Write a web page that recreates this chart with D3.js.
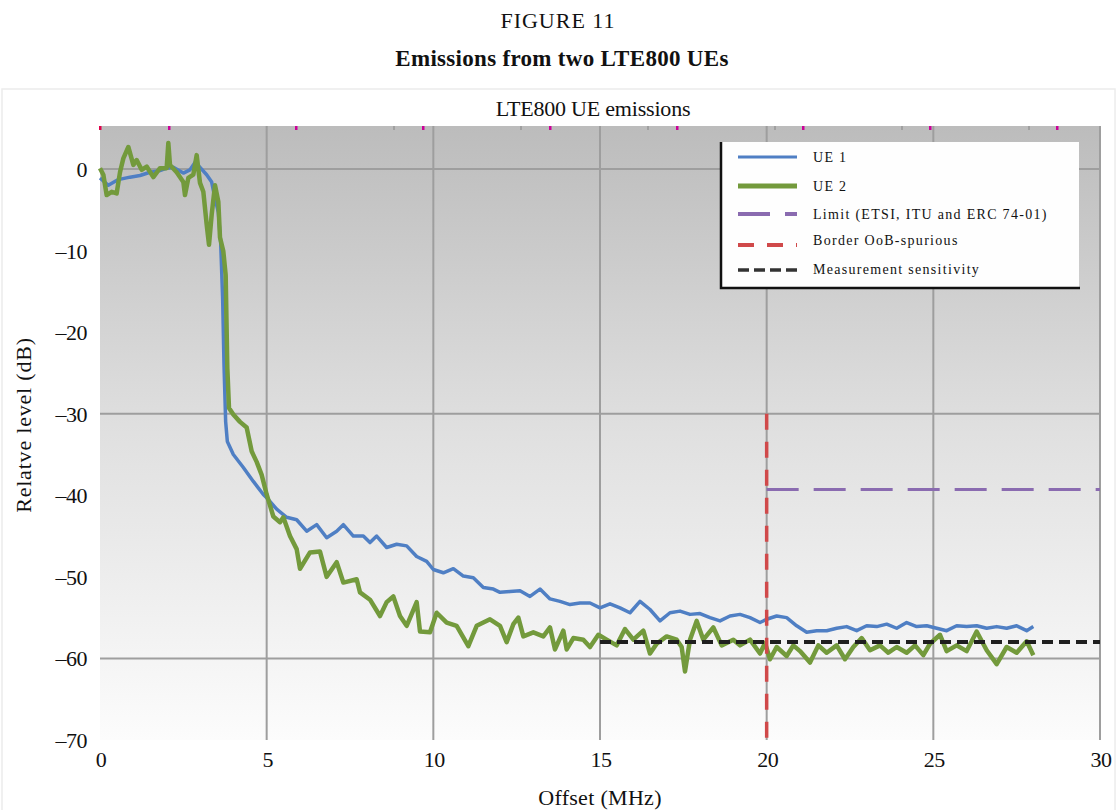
<!DOCTYPE html>
<html lang="en">
<head>
<meta charset="UTF-8">
<title>LTE800 UE emissions</title>
<style>
  body { margin: 0; background: #fff; }
  text { font-family: "Liberation Serif", "Times New Roman", serif; fill: #111; }
</style>
</head>
<body>
<script src="https://d3js.org/d3.v7.min.js"></script>
<script>
// UE 1 (blue) - offset in MHz / relative level in dB
var ue1Offset = [
  0, 0.25, 0.55, 0.9, 1.2, 1.5, 1.8, 2.0, 2.2, 2.5,
  2.7, 2.85, 3.0, 3.2, 3.35, 3.45, 3.55, 3.62, 3.68, 3.72,
  3.77, 3.82, 4.0, 4.3, 4.6, 4.9, 5.0, 5.3, 5.6, 5.9,
  6.2, 6.5, 6.8, 7.1, 7.3, 7.6, 7.9, 8.1, 8.3, 8.6,
  8.9, 9.2, 9.5, 9.8, 10.0, 10.3, 10.6, 10.9, 11.2, 11.5,
  11.8, 12.0, 12.3, 12.6, 12.9, 13.2, 13.5, 13.8, 14.1, 14.4,
  14.7, 15.0, 15.3, 15.6, 15.9, 16.2, 16.5, 16.8, 17.1, 17.4,
  17.7, 18.0, 18.3, 18.6, 18.9, 19.2, 19.5, 19.8, 20.0, 20.3,
  20.6, 20.9, 21.2, 21.5, 21.8, 22.1, 22.4, 22.7, 23.0, 23.3,
  23.6, 23.9, 24.2, 24.5, 24.8, 25.1, 25.4, 25.7, 26.0, 26.3,
  26.6, 26.9, 27.2, 27.5, 27.8, 28.0
];
var ue1Level = [
  -1.1, -2.0, -1.3, -1.0, -0.8, -0.4, -0.2, 0.1, 0.2, -0.5,
  -0.1, 0.8, 0.2, -0.7, -1.6, -3.6, -5.3, -9, -16, -24,
  -31, -33.4, -35, -36.6, -38.3, -39.9, -40.3, -41.7, -42.7, -43,
  -44.4, -43.6, -45.2, -44.4, -43.6, -45, -45, -45.8, -45, -46.4,
  -46, -46.2, -47.5, -48.1, -49.1, -49.5, -49, -49.9, -50.1, -51.3,
  -51.5, -51.9, -51.8, -51.7, -52.4, -51.5, -52.7, -53, -53.4, -53.2,
  -53.2, -53.8, -53.3, -53.8, -54.4, -53, -54, -55.4, -54.4, -54.2,
  -54.6, -54.5, -55, -55.4, -54.8, -54.6, -55, -55.6, -55.2, -54.8,
  -55, -56, -56.8, -56.6, -56.6, -56.3, -56.1, -56.6, -56, -56.1,
  -55.8, -56.3, -55.6, -56.1, -56, -56.3, -56.6, -56, -56.1, -56,
  -56.3, -56.1, -56.3, -56, -56.6, -56.1
];

// UE 2 (green)
var ue2Offset = [
  0, 0.1, 0.2, 0.35, 0.5, 0.6, 0.7, 0.85, 1.0, 1.1,
  1.25, 1.4, 1.6, 1.8, 2.0, 2.05, 2.1, 2.3, 2.5, 2.55,
  2.65, 2.8, 2.9, 3.0, 3.1, 3.2, 3.27, 3.35, 3.45, 3.55,
  3.6, 3.7, 3.77, 3.82, 3.87, 4.0, 4.2, 4.4, 4.55, 4.7,
  4.85, 5.0, 5.2, 5.4, 5.5, 5.7, 5.9, 6.0, 6.3, 6.6,
  6.8, 7.1, 7.3, 7.7, 7.8, 8.1, 8.4, 8.6, 8.8, 9.0,
  9.2, 9.5, 9.6, 9.9, 10.1, 10.4, 10.7, 11.05, 11.3, 11.7,
  12.0, 12.2, 12.4, 12.55, 12.7, 13.0, 13.3, 13.5, 13.65, 13.9,
  14.0, 14.2, 14.5, 14.7, 14.95, 15.2, 15.5, 15.75, 16.0, 16.3,
  16.5, 16.7, 17.0, 17.3, 17.45, 17.55, 17.7, 17.9, 18.1, 18.4,
  18.65, 19.0, 19.2, 19.5, 19.8, 19.95, 20.1, 20.3, 20.6, 20.8,
  21.0, 21.3, 21.55, 21.8, 22.1, 22.35, 22.6, 22.85, 23.1, 23.4,
  23.65, 23.9, 24.2, 24.45, 24.7, 24.9, 25.2, 25.4, 25.7, 26.0,
  26.3, 26.6, 26.9, 27.2, 27.5, 27.8, 28.0
];
var ue2Level = [
  0.1, -0.7, -3.2, -2.8, -3.0, -0.4, 1.3, 2.7, 0.5, 1.1,
  -0.1, 0.3, -1.0, 0.1, 0.1, 3.2, 0.5, -0.4, -1.6, -3.2,
  -1.1, -0.7, 1.7, -1.7, -2.8, -6.8, -9.3, -5.6, -2.0, -4.0,
  -8.4, -10.1, -13, -24.4, -29.3, -30.1, -31, -31.7, -34.6, -35.9,
  -37.5, -39.9, -42.6, -43.3, -42.7, -45, -46.6, -49, -47, -46.9,
  -50, -48.2, -50.7, -50.3, -51.9, -52.8, -54.8, -53.1, -52.4, -54.8,
  -56, -53.1, -56.7, -56.8, -54.4, -55.6, -56, -58.5, -56, -55.2,
  -56, -58, -55.8, -55, -57.3, -56.8, -57.3, -56.2, -58.9, -56.6,
  -58.9, -57.5, -57.7, -58.6, -57.1, -57.7, -58.4, -56.4, -57.7, -56.6,
  -59.4, -58.2, -57.3, -57.7, -58.6, -61.6, -57.7, -55.4, -57.7, -56.2,
  -58.4, -57.7, -58.4, -57.7, -59.4, -58.1, -60.1, -58.6, -59.7, -58.4,
  -59.1, -60.5, -58.4, -59.3, -58.4, -60.1, -58.6, -57.5, -59, -58.4,
  -59.3, -58.6, -59.3, -58.4, -59.6, -58.2, -57.1, -59.1, -58.4, -59.1,
  -56.7, -59, -60.7, -58.6, -59.3, -57.9, -59.6
];

// reference lines
var limitOffset = [20, 30], limitLevel = [-39.3, -39.3];
var borderOffset = [20, 20], borderLevel = [-30, -70];
var sensOffset = [15, 30], sensLevel = [-58, -58];

// axes
var xTicks = [0, 5, 10, 15, 20, 25, 30];
var yTicks = [0, -10, -20, -30, -40, -50, -60, -70];
var xGrid = [5, 10, 15, 20, 25, 30];
var yGrid = [0, -30, -60];
// stray marks along the top edge of the plot
var topPinkMarks = [0, 2.07, 5.88, 9.69, 13.5, 17.31, 21.09, 24.9, 28.71];
var topGreyMarks = [8.82, 12.63, 16.44, 20.25, 24.06, 27.87];

var legendNames = ["UE 1", "UE 2", "Limit (ETSI, ITU and ERC 74-01)", "Border OoB-spurious", "Measurement sensitivity"];

var W = 1117, H = 810;
var svg = d3.select("body").append("svg").attr("width", W).attr("height", H);

var x = d3.scaleLinear().domain([0, 30]).range([100, 1100]);
var y = d3.scaleLinear().domain([-70, 0]).range([740, 169]);
var plotTop = 126;

// headings
svg.append("text").attr("x", 558).attr("y", 28).attr("text-anchor", "middle")
  .style("font-size", "22px").style("letter-spacing", "1px").text("FIGURE 11");
svg.append("text").attr("x", 562).attr("y", 66).attr("text-anchor", "middle")
  .style("font-size", "23px").style("font-weight", "bold").style("letter-spacing", "0.3px")
  .text("Emissions from two LTE800 UEs");

// chart frame
svg.append("rect").attr("x", 2).attr("y", 89).attr("width", 1113).attr("height", 730)
  .attr("fill", "none").attr("stroke", "#ececec").attr("stroke-width", 1.5);

svg.append("text").attr("x", 593).attr("y", 116).attr("text-anchor", "middle")
  .style("font-size", "22px").style("letter-spacing", "-0.2px").text("LTE800 UE emissions");

// plot background gradient
var grad = svg.append("defs").append("linearGradient").attr("id", "bg")
  .attr("x1", 0).attr("y1", 0).attr("x2", 0).attr("y2", 1);
grad.append("stop").attr("offset", "0%").attr("stop-color", "#bcbcbc");
grad.append("stop").attr("offset", "50%").attr("stop-color", "#e0e0e0");
grad.append("stop").attr("offset", "100%").attr("stop-color", "#fcfcfc");

svg.append("rect").attr("x", x(0)).attr("y", plotTop)
  .attr("width", x(30) - x(0)).attr("height", y(-70) - plotTop)
  .attr("fill", "url(#bg)");

// grid
svg.selectAll(".vgrid").data(xGrid).enter().append("line").attr("class", "vgrid")
  .attr("x1", function(d){ return x(d); }).attr("x2", function(d){ return x(d); })
  .attr("y1", plotTop).attr("y2", y(-70))
  .attr("stroke", "#9e9e9e").attr("stroke-width", 2);
svg.selectAll(".hgrid").data(yGrid).enter().append("line").attr("class", "hgrid")
  .attr("x1", x(0)).attr("x2", x(30))
  .attr("y1", function(d){ return y(d); }).attr("y2", function(d){ return y(d); })
  .attr("stroke", "#9e9e9e").attr("stroke-width", 2);

svg.selectAll(".pink").data(topPinkMarks).enter().append("rect").attr("class", "pink")
  .attr("x", function(d){ return x(d) - 1; }).attr("y", plotTop).attr("width", 2.5).attr("height", 4)
  .attr("fill", function(d, i){ return i == 0 ? "#e0004a" : "#cc0099"; });
svg.selectAll(".greym").data(topGreyMarks).enter().append("rect").attr("class", "greym")
  .attr("x", function(d){ return x(d) - 1; }).attr("y", plotTop).attr("width", 2).attr("height", 4)
  .attr("fill", "#a0a0a0");

// tick labels
svg.selectAll(".ylab").data(yTicks).enter().append("text").attr("class", "ylab")
  .attr("x", 87).attr("y", function(d){ return y(d) + 8; })
  .attr("text-anchor", "end").style("font-size", "22px").style("letter-spacing", "-0.5px")
  .text(function(d){ return d < 0 ? "\u2013" + (-d) : d; });
svg.selectAll(".xlab").data(xTicks).enter().append("text").attr("class", "xlab")
  .attr("x", function(d){ return x(d) + 1; }).attr("y", 767)
  .attr("text-anchor", "middle").style("font-size", "22px").style("letter-spacing", "-0.5px")
  .text(function(d){ return d; });

svg.append("text").attr("x", 600).attr("y", 805).attr("text-anchor", "middle")
  .style("font-size", "22px").style("letter-spacing", "0.3px").text("Offset (MHz)");
svg.append("text").attr("transform", "translate(31,425) rotate(-90)").attr("text-anchor", "middle")
  .style("font-size", "22px").style("letter-spacing", "0.8px").text("Relatve level (dB)");

// series
var line = d3.line().x(function(d){ return x(d[0]); }).y(function(d){ return y(d[1]); });

svg.append("path").datum(d3.zip(ue1Offset, ue1Level)).attr("d", line)
  .attr("fill", "none").attr("stroke", "#4f7fc4").attr("stroke-width", 3.5).attr("stroke-linejoin", "round");
svg.append("path").datum(d3.zip(ue2Offset, ue2Level)).attr("d", line)
  .attr("fill", "none").attr("stroke", "#739a3c").attr("stroke-width", 4.5).attr("stroke-linejoin", "round");

svg.append("path").datum(d3.zip(limitOffset, limitLevel)).attr("d", line)
  .attr("fill", "none").attr("stroke", "#8a6bb0").attr("stroke-width", 3).attr("stroke-dasharray", "32,15");
svg.append("path").datum(d3.zip(sensOffset, sensLevel)).attr("d", line)
  .attr("fill", "none").attr("stroke", "#1f1f1f").attr("stroke-width", 4).attr("stroke-dasharray", "11,6");
svg.append("path").datum(d3.zip(borderOffset, borderLevel)).attr("d", line)
  .attr("fill", "none").attr("stroke", "#d0494a").attr("stroke-width", 3.5).attr("stroke-dasharray", "16,12");

// legend
var lg = svg.append("g");
lg.append("rect").attr("x", 721).attr("y", 142).attr("width", 358).attr("height", 146)
  .attr("fill", "#fefefe");
lg.append("path").attr("d", "M721,142 V288 H1080")
  .attr("fill", "none").attr("stroke", "#111").attr("stroke-width", 2.5);

var legendStyle = [
  { c: "#4f7fc4", w: 3, dash: null, ly: 157, ty: 162 },
  { c: "#739a3c", w: 5, dash: null, ly: 186, ty: 191 },
  { c: "#8a6bb0", w: 4, dash: "32,15", ly: 214, ty: 219 },
  { c: "#d0494a", w: 4, dash: "16,13", ly: 245, ty: 245 },
  { c: "#333", w: 3.5, dash: "11,5", ly: 270, ty: 274 }
];
legendNames.forEach(function(name, i){
  var s = legendStyle[i];
  lg.append("line").attr("x1", 738).attr("x2", 797).attr("y1", s.ly).attr("y2", s.ly)
    .attr("stroke", s.c).attr("stroke-width", s.w).attr("stroke-dasharray", s.dash);
  lg.append("text").attr("x", 813).attr("y", s.ty)
    .style("font-size", "14px").style("letter-spacing", "1.3px").text(name);
});
</script>
</body>
</html>
